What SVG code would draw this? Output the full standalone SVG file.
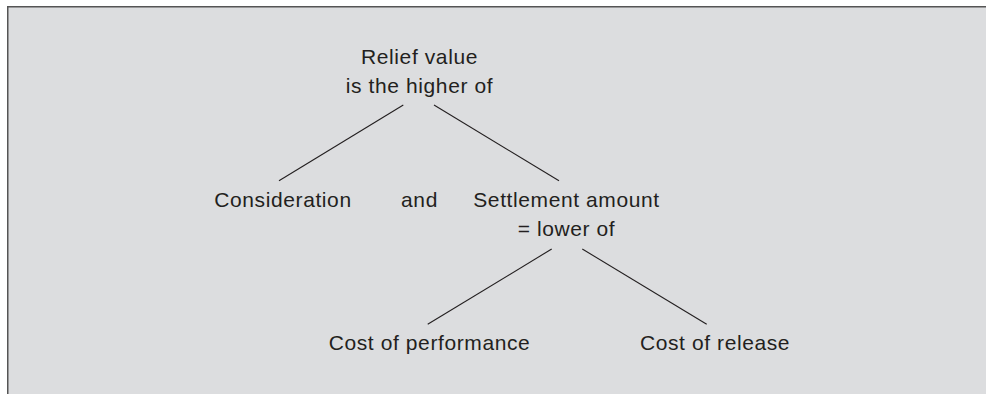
<svg xmlns="http://www.w3.org/2000/svg" width="986" height="394" viewBox="0 0 986 394">
<style>
.t{font-family:"Liberation Sans",Arial,Helvetica,sans-serif;font-size:21px;fill:#231f20;letter-spacing:0.6px;text-anchor:middle}
.c{stroke:#231f20;stroke-width:1.1;fill:none}
</style>
<rect x="0" y="0" width="986" height="394" fill="#ffffff"/>
<rect x="7" y="6" width="979" height="388" fill="#dcdddf"/>
<line x1="7" y1="6.75" x2="986" y2="6.75" stroke="#555" stroke-width="1.5"/>
<line x1="7.75" y1="6" x2="7.75" y2="394" stroke="#555" stroke-width="1.5"/>
<g id="connectors">
<line class="c" x1="403.3" y1="105" x2="279" y2="180.7"/>
<line class="c" x1="434" y1="105" x2="559" y2="180.7"/>
<line class="c" x1="551.7" y1="249" x2="427.7" y2="324.3"/>
<line class="c" x1="582.3" y1="249" x2="706.7" y2="324.3"/>
</g>
<g id="relief">
<text class="t" x="419.5" y="64">Relief value</text>
<text class="t" x="419.5" y="93">is the higher of</text>
</g>
<g id="consideration">
<text class="t" x="283" y="207">Consideration</text>
</g>
<g id="and">
<text class="t" x="419.5" y="207">and</text>
</g>
<g id="settlement">
<text class="t" x="566.5" y="207">Settlement amount</text>
<text class="t" x="566.5" y="236">= lower of</text>
</g>
<g id="performance">
<text class="t" x="429.5" y="350">Cost of performance</text>
</g>
<g id="release">
<text class="t" x="715" y="350">Cost of release</text>
</g>
</svg>
